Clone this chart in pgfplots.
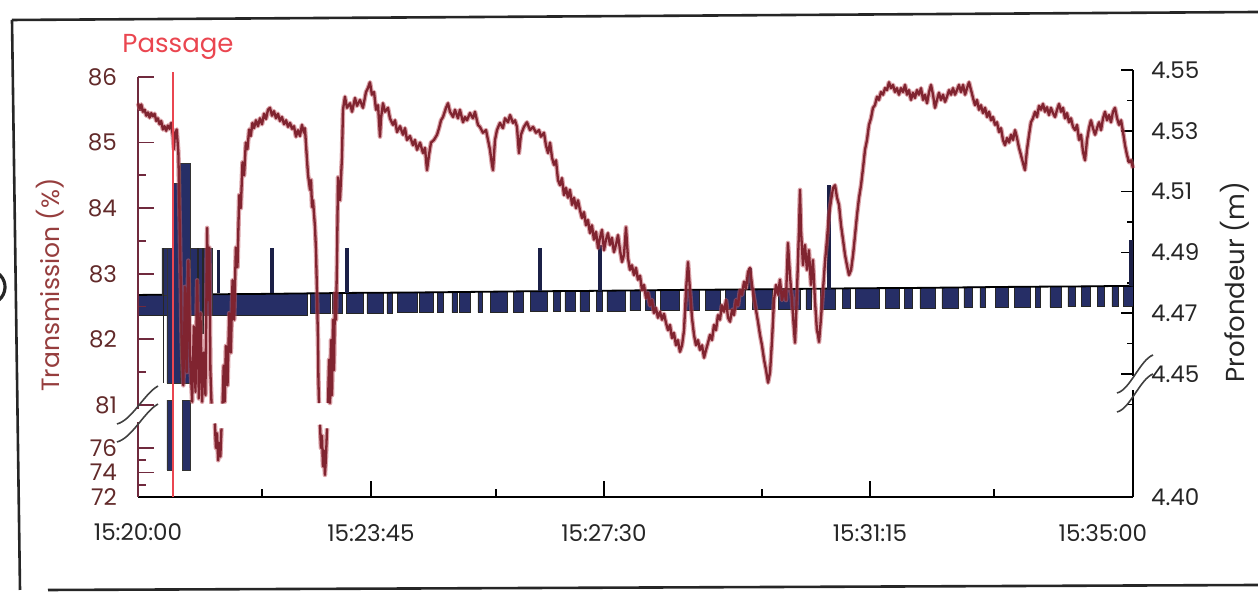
\documentclass[border=0pt]{standalone}
\usepackage{fontspec}
\setmainfont{Poppins}
\usepackage{pgfplots}
\usepackage{pgfplotstable}
\pgfplotsset{compat=1.18}

\definecolor{transred}{RGB}{128,36,48}
\definecolor{transhalo}{RGB}{190,90,100}
\definecolor{depthblue}{RGB}{38,46,102}
\definecolor{axisbrown}{RGB}{112,42,62}
\definecolor{numbrown}{RGB}{98,42,42}
\definecolor{labelred}{RGB}{150,62,62}
\definecolor{passred}{RGB}{234,70,80}

\newcommand{\ticksize}{\fontsize{11.5}{13}\selectfont}
\newcommand{\labelsize}{\fontsize{12.5}{14}\selectfont}

% broken scales, mapped onto a common drawing scale:
% transmission 72-76 compressed below the break, 81-86 above;
% depth 4.40-4.44 compressed below the break, 4.44-4.55 above
\pgfplotsset{
  transscale/.style={
    y filter/.expression={y>=78.5 ? 92+(y-81)*65.6 : (y-72)*12.25},
    ymin=0, ymax=420,
    ytick={0,24.5,49,92,157.6,223.2,288.8,354.4,420},
    yticklabels={72,74,76,81,82,83,84,85,86},
    minor ytick={12.25,36.75,124.8,190.4,256,321.6,387.2},
  },
  depthscale/.style={
    y filter/.expression={y>=4.44 ? 123+(y-4.45)*3040 : (y-4.40)*2200},
    ymin=0, ymax=427,
    ytick={0,123,183.8,244.6,305.4,366.2,427},
    yticklabels={4.40,4.45,4.47,4.49,4.51,4.53,4.55},
    minor ytick={92.6,153.4,214.2,275,335.8,396.6},
  },
  trans/.style={transred, line width=1.15pt, line join=round},
  transback/.style={transhalo, line width=2.3pt, line join=round, opacity=0.55},
  spike/.style={depthblue!70!black, line width=1.6pt},
}

% depth record: lower level of the toggling band (time in s from 15:20:00, depth in m)
\pgfplotstableread{
t d
0 4.4693
152.9 4.4765
155.6 4.4698
173.7 4.4766
175.5 4.4699
184.5 4.4766
189.0 4.4699
203.5 4.4767
207.1 4.4700
221.6 4.4767
225.2 4.4700
230.6 4.4768
234.3 4.4701
252.4 4.4768
254.2 4.4701
266.8 4.4769
270.5 4.4702
275.9 4.4769
284.0 4.4702
288.5 4.4770
291.2 4.4703
300.3 4.4770
307.5 4.4703
312.0 4.4770
318.4 4.4704
333.8 4.4771
339.2 4.4704
348.2 4.4772
354.6 4.4705
370.0 4.4772
375.4 4.4706
381.7 4.4773
386.2 4.4706
395.3 4.4773
399.8 4.4706
408.8 4.4774
414.3 4.4707
419.7 4.4774
424.2 4.4707
440.5 4.4775
445.0 4.4708
454.1 4.4775
458.6 4.4708
467.6 4.4776
472.2 4.4709
490.2 4.4776
494.8 4.4709
508.3 4.4777
512.9 4.4710
526.4 4.4778
531.0 4.4711
549.1 4.4778
555.4 4.4711
573.5 4.4779
578.9 4.4712
598.8 4.4780
604.2 4.4713
609.6 4.4780
616.9 4.4713
630.5 4.4781
636.8 4.4714
644.0 4.4781
649.4 4.4715
671.1 4.4782
675.7 4.4716
689.2 4.4783
693.7 4.4716
700.1 4.4783
707.3 4.4717
720.9 4.4784
727.2 4.4717
741.7 4.4785
747.1 4.4718
754.4 4.4785
761.6 4.4718
766.1 4.4786
775.2 4.4719
786.9 4.4786
793.2 4.4719
806.8 4.4787
812.2 4.4720
815.9 4.4787
824.9 4.4720
835.7 4.4788
841.2 4.4721
847.5 4.4788
853.8 4.4721
861.1 4.4789
868.3 4.4722
874.6 4.4789
881.0 4.4722
886.4 4.4790
891.8 4.4723
900 4.4723
}\bandlow

% upper level of the band, from the end back to the start
\pgfplotstableread{
t d
900 4.4790
850 4.4788
800 4.4787
750 4.4785
700 4.4783
650 4.4782
600 4.4780
550 4.4778
500 4.4777
450 4.4775
400 4.4773
350 4.4772
300 4.4770
250 4.4768
200 4.4767
150 4.4765
100 4.4763
50 4.4762
0 4.4760
}\bandtop

% closed outline of the band: lower level forward, upper level back
\pgfplotstablevertcat{\bandpoly}{\bandlow}
\pgfplotstablevertcat{\bandpoly}{\bandtop}

% transmission (%), pieces of the record on either side of the axis break
\pgfplotstableread{
t T
0 85.60
1.5 85.52
3 85.58
4.5 85.47
6 85.50
7.5 85.41
9 85.46
10.5 85.38
12 85.45
13.5 85.40
15 85.44
16.5 85.33
18 85.37
19.5 85.28
21 85.33
22.5 85.20
24 85.25
25.5 85.18
27 85.26
28.5 85.21
30 85.30
31.5 85.10
32.5 84.90
33.5 85.15
35 85.20
36.5 84.85
38 83.50
39.5 82.00
41 81.30
42.5 82.80
44 81.50
45.5 83.20
47 81.80
49 81.05
50.5 82.20
52 81.20
53.5 82.90
55 81.10
56.5 82.40
58 81.05
59.5 81.80
61 81.15
62.5 83.70
63.5 82.60
64.5 83.40
65.5 81.50
66.5 81.02
}\transA
\pgfplotstableread{
t T
69.5 78.0
70.5 76.0
71.5 77.2
72.5 75.0
73.5 76.4
74.5 75.3
75.5 77.6
}\transB
\pgfplotstableread{
t T
164.6 77.9
165.5 76.0
166.4 77.0
167.3 74.5
168.2 75.8
169.1 73.8
170.0 75.2
171.0 77.6
}\transD

\begin{document}
\begin{tikzpicture}
\useasboundingbox (0,0) rectangle (629pt,296pt);

% sheet frame
\draw[black!85, line width=1.3pt] (6pt,286pt) -- (629pt,290pt);
\draw[black!85, line width=1.3pt] (6pt,286pt) -- (10pt,1pt);
\draw[black!85, line width=1.3pt] (24pt,1pt) -- (629pt,3.5pt);
\draw[black!85, line width=1.6pt] (-6pt,152.5pt) ++(-60:8.5pt) arc (-60:60:8.5pt);

% ---------- depth (right axis) ----------
\begin{axis}[
  at={(69pt,47.5pt)}, anchor=south west,
  scale only axis, width=497.5pt, height=213.5pt,
  xmin=0, xmax=900,
  depthscale,
  axis x line=none, axis y line*=right,
  y axis line style={black, line width=1pt},
  tick align=inside,
  major tick length=6pt, minor tick length=3pt,
  ytick style={black, line width=0.8pt},
  yticklabel style={font=\ticksize, text=black!85, xshift=5.5pt},
  clip=false,
]
\addplot[const plot, fill=depthblue, draw=none] table[x=t, y=d] {\bandpoly};
\addplot[const plot, black!85, line width=0.45pt] table[x=t, y=d] {\bandlow};
\addplot[black, line width=0.9pt] table[x=t, y=d] {\bandtop};

% disturbance at the passage
\addplot[fill=depthblue, draw=black!80, line width=0.4pt] coordinates {(21.7,4.4760)(26.2,4.4760)(26.2,4.4914)(21.7,4.4914)(21.7,4.4760)};
\addplot[fill=depthblue, draw=black!80, line width=0.4pt] coordinates {(26.2,4.4470)(30.8,4.4470)(30.8,4.4914)(26.2,4.4914)(26.2,4.4470)};
\addplot[fill=depthblue, draw=black!80, line width=0.4pt] coordinates {(30.8,4.4470)(38.0,4.4470)(38.0,4.5128)(30.8,4.5128)(30.8,4.4470)};
\addplot[fill=depthblue, draw=black!80, line width=0.4pt] coordinates {(38.0,4.4470)(47.0,4.4470)(47.0,4.5194)(38.0,4.5194)(38.0,4.4470)};
\addplot[fill=depthblue, draw=black!80, line width=0.4pt] coordinates {(47.0,4.4694)(66.9,4.4694)(66.9,4.4914)(47.0,4.4914)(47.0,4.4694)};
\addplot[fill=depthblue, draw=black!80, line width=0.4pt] coordinates {(26.2,4.4123)(30.8,4.4123)(30.8,4.4414)(26.2,4.4414)(26.2,4.4123)};
\addplot[fill=depthblue, draw=black!80, line width=0.4pt] coordinates {(39.8,4.4123)(47.0,4.4123)(47.0,4.4414)(39.8,4.4414)(39.8,4.4123)};
\addplot[black!85, line width=0.9pt] coordinates {(23.0,4.4470)(23.0,4.4914)};
\addplot[black!85, line width=0.9pt] coordinates {(54.0,4.4556)(54.0,4.4914)};
\addplot[black!85, line width=0.9pt] coordinates {(59.0,4.4630)(59.0,4.4914)};

% isolated depth spikes
\addplot[spike] coordinates {(73.0,4.4767)(73.0,4.4908)};
\addplot[spike] coordinates {(121.2,4.4767)(121.2,4.4914)};
\addplot[spike] coordinates {(189.0,4.4768)(189.0,4.4914)};
\addplot[spike] coordinates {(363.6,4.4772)(363.6,4.4914)};
\addplot[spike] coordinates {(417.9,4.4774)(417.9,4.4924)};
\addplot[spike] coordinates {(553.6,4.4778)(553.6,4.4849)};
\addplot[spike] coordinates {(625.0,4.4781)(625.0,4.5122)};
\addplot[spike] coordinates {(898.2,4.4790)(898.2,4.4940)};
\end{axis}

% ---------- transmission (left axis) ----------
\begin{axis}[
  at={(69pt,47.5pt)}, anchor=south west,
  scale only axis, width=497.5pt, height=210pt,
  xmin=0, xmax=900,
  transscale,
  axis x line*=bottom, axis y line*=left,
  x axis line style={black, line width=1.4pt},
  y axis line style={axisbrown, line width=1pt},
  tick align=inside,
  xtick={0,210.7,421.5,662.1},
  xticklabels={15:20:00,15:23:45,15:27:30,15:31:15},
  extra x ticks={872.8},
  extra x tick labels={15:35:00},
  extra x tick style={major tick length=0pt},
  minor xtick={112.2,323.8,564.4,774.3},
  major tick length=8pt, minor tick length=4pt,
  xtick style={black, line width=0.8pt},
  ytick style={axisbrown, line width=0.9pt},
  xticklabel style={font=\ticksize, text=black!85, yshift=-10pt},
  yticklabel style={font=\ticksize, text=numbrown, xshift=-7pt},
  clip=false,
]
\addplot[transback] table[x=t, y=T] {\transA};
\addplot[trans] table[x=t, y=T] {\transA};
\addplot[transback] table[x=t, y=T] {\transB};
\addplot[trans] table[x=t, y=T] {\transB};
\addplot[transback] table[x=t, y=T] {\transD};
\addplot[trans] table[x=t, y=T] {\transD};
\pgfplotsinvokeforeach{transback,trans}{
\addplot[#1] coordinates {
(76.5,81.02)(77.5,81.60)(78.5,81.05)(79.5,81.90)(81,81.30)(82.5,82.40)(84,81.80)(85.5,82.90)(87,82.30)(88.5,83.40)
(90,83.10)(91.5,84.20)(93,84.00)(94.5,84.70)(96,84.50)(97.5,85.00)(99,84.90)(100.5,85.20)(102,85.10)(103.5,85.30)
(105,85.22)(106.7,85.34)(108.5,85.25)(110.3,85.37)(112.2,85.28)(114.0,85.44)(115.8,85.36)(117.6,85.50)(119.4,85.53)(121.2,85.41)
(123.0,85.48)(124.8,85.37)(126.6,85.44)(128.4,85.33)(130.2,85.39)(132.1,85.28)(133.9,85.34)(135.7,85.24)(137.5,85.30)(139.3,85.21)
(141.1,85.25)(142.9,85.09)(144.7,85.19)(146.5,85.10)(148.3,85.27)(150.1,85.15)(151.0,85.22)(152.9,84.73)(153.8,84.51)(155.6,84.28)
(156.5,84.43)(157.4,84.02)(158.3,84.12)(160.1,83.71)(161.0,83.36)(161.9,82.71)(162.8,81.99)(163.2,81.38)(163.7,81.03)};
\addplot[#1] coordinates {
(171.9,81.03)(172.8,81.69)(173.7,81.03)(174.6,81.99)(175.5,81.15)(176.4,82.30)(177.3,81.53)(178.2,82.71)(179.1,82.30)(180.0,83.21)
(180.9,84.47)(182.7,84.12)(184.5,84.78)(185.4,85.50)(187.2,85.70)(189.0,85.53)(191.8,85.60)(193.6,85.47)(196.3,85.68)(198.1,85.56)
(200.8,85.65)(203.5,85.53)(206.2,85.77)(208.0,85.83)(209.8,85.92)(211.6,85.73)(213.5,85.77)(215.3,85.50)(217.1,85.57)(218.9,85.09)
(219.8,85.37)(221.6,85.60)(223.4,85.47)(226.1,85.53)(227.9,85.37)(230.6,85.27)(232.5,85.34)(234.3,85.16)(237.0,85.25)(239.7,85.12)
(241.5,85.22)(243.3,85.04)(246.0,85.10)(248.7,84.96)(250.5,85.04)(252.4,84.89)(255.1,85.00)(257.8,84.84)(259.6,84.92)(261.4,84.58)
(263.2,84.81)(265.0,85.00)(267.7,85.04)(270.5,85.12)(272.3,85.22)(274.1,85.34)(275.9,85.39)(278.6,85.53)(280.4,85.60)(282.2,85.47)
(285.0,85.39)(286.7,85.50)(289.4,85.37)(291.2,85.50)(294.0,85.31)(295.8,85.39)(297.6,85.34)(300.3,85.45)(303.0,85.37)(304.8,85.47)
(307.5,85.27)(309.3,85.24)(312.0,85.15)(314.8,85.19)(316.6,85.04)(318.4,84.89)(320.2,84.66)(321.1,84.58)(322.9,85.04)(324.7,85.19)
(327.4,85.30)(330.1,85.22)(332.0,85.37)(334.7,85.31)(336.5,85.42)(339.2,85.30)(341.0,85.34)(342.8,85.24)(344.6,84.84)(346.4,85.12)
(349.1,85.24)(351.8,85.31)(354.6,85.19)(357.3,85.24)(360.0,85.15)(362.7,85.19)(364.5,85.09)(367.2,85.15)(369.0,84.96)(370.9,84.84)
(372.7,85.00)(374.5,84.77)(376.3,84.66)(378.1,84.73)(379.9,84.43)(381.7,84.35)(383.5,84.46)(385.3,84.20)(387.1,84.31)(388.9,84.16)
(390.7,84.28)(392.6,84.05)(394.4,84.16)(396.2,84.00)(398.0,84.12)(399.8,83.97)(401.6,83.85)(403.4,83.94)(405.2,83.74)(407.0,83.82)
(408.8,83.62)(410.6,83.74)(412.4,83.52)(414.3,83.64)(416.1,83.39)(417.9,83.55)(419.7,83.67)(421.5,83.36)(423.3,83.52)(425.1,83.62)
(426.9,83.44)(428.7,83.55)(430.5,83.33)(432.3,83.44)(434.2,83.59)(436.0,83.36)(437.8,83.18)(439.6,83.29)(441.4,83.71)(443.2,83.24)
(445.0,83.06)(446.8,83.13)(448.6,82.98)(450.4,83.09)(452.2,82.91)(454.1,82.97)(455.9,82.75)(457.7,82.83)(459.5,82.63)(461.3,82.71)
(463.1,82.52)(464.9,82.60)(466.7,82.40)(468.5,82.48)(470.3,82.33)(472.2,82.42)(474.0,82.30)(475.8,82.39)(477.6,82.25)(479.4,82.14)
(481.2,82.22)(483.0,82.02)(484.8,82.10)(486.6,81.91)(488.4,81.99)(490.2,81.81)(492.1,81.91)(493.9,82.14)(495.7,82.75)(497.5,83.18)
(499.3,82.75)(501.1,82.33)(502.9,82.07)(504.7,81.91)(506.5,81.99)(508.3,81.84)(510.2,81.91)(512.0,81.72)(513.8,81.84)(515.6,81.95)
(517.4,82.07)(519.2,81.99)(521.0,82.22)(522.8,82.14)(524.6,82.37)(526.4,82.30)(528.2,82.52)(530.1,82.42)(531.9,82.60)(533.7,82.33)
(535.5,82.27)(537.3,82.45)(539.1,82.37)(540.9,82.60)(542.7,82.52)(544.5,82.75)(546.3,82.68)(548.2,82.88)(550.0,82.78)(551.8,83.03)
(553.6,83.09)(555.4,82.83)(557.2,82.63)(559.0,82.45)(560.8,82.27)(562.6,82.07)(564.4,81.91)(566.3,81.69)(568.1,81.53)(569.9,81.34)
(571.7,81.50)(573.5,81.99)(575.3,82.60)(577.1,82.83)(578.9,82.68)(580.7,82.91)(582.5,82.60)(584.4,82.75)(586.1,82.60)(587.9,83.47)
(589.7,82.98)(591.5,82.60)(593.4,82.14)(594.3,81.95)(596.1,82.75)(597.9,83.67)(598.8,84.28)(599.7,83.67)(601.5,83.13)(603.3,83.44)
(605.1,83.06)(606.9,83.36)(608.7,82.83)(610.5,83.21)(612.3,82.60)(614.1,82.14)(615.1,82.07)(616.0,81.96)(617.8,82.33)(619.6,82.75)
(621.4,83.18)(623.2,83.52)(625.0,83.90)(626.9,84.12)(628.7,84.31)(630.5,84.35)(632.3,84.16)(634.1,84.05)(635.9,83.74)(637.7,83.52)
(639.5,83.29)(641.3,83.13)(643.1,82.98)(645.0,83.06)(646.8,83.29)(648.6,83.59)(650.4,83.90)(652.2,84.16)(654.0,84.35)(655.8,84.61)
(657.6,84.89)(659.4,85.04)(661.2,85.27)(663.0,85.37)(664.8,85.53)(666.6,85.57)(668.5,85.70)(670.2,85.65)(672.0,85.77)(673.9,85.73)
(675.7,85.83)(677.5,85.80)(679.3,85.92)(681.1,85.83)(682.9,85.88)(684.7,85.77)(686.5,85.83)(688.3,85.73)(690.1,85.83)(692.0,85.77)
(693.8,85.88)(695.6,85.73)(697.4,85.80)(699.2,85.65)(701.0,85.76)(702.8,85.68)(704.6,85.80)(706.4,85.73)(708.3,85.83)(710.1,85.65)
(711.9,85.73)(713.7,85.60)(715.5,85.77)(717.3,85.88)(719.1,85.73)(720.9,85.53)(722.7,85.65)(724.5,85.76)(726.3,85.65)(728.2,85.73)
(730.0,85.62)(731.8,85.70)(733.6,85.80)(735.4,85.73)(737.2,85.83)(739.0,85.73)(740.8,85.80)(742.6,85.88)(744.4,85.77)(746.3,85.88)
(748.1,85.73)(749.9,85.83)(751.7,85.92)(753.5,85.80)(755.3,85.68)(757.1,85.57)(758.9,85.65)(760.7,85.50)(762.5,85.57)(764.3,85.45)
(766.2,85.53)(768.0,85.39)(769.8,85.47)(771.6,85.34)(773.4,85.39)(775.2,85.27)(777.0,85.31)(778.8,85.16)(780.6,85.22)(782.4,85.04)
(784.2,84.96)(786.1,85.07)(787.9,85.00)(789.7,85.12)(791.5,85.04)(793.3,85.19)(795.1,85.07)(796.9,84.92)(798.7,84.81)(800.5,84.69)
(802.3,84.58)(804.1,84.89)(806.0,85.12)(807.7,85.31)(809.5,85.37)(811.4,85.47)(813.2,85.39)(815.0,85.56)(816.8,85.50)(818.6,85.59)
(820.4,85.47)(822.2,85.54)(824.0,85.42)(825.8,85.53)(827.6,85.45)(829.5,85.39)(831.3,85.50)(833.1,85.59)(834.9,85.47)(836.7,85.53)
(838.5,85.37)(840.3,85.45)(842.1,85.31)(843.9,85.37)(845.7,85.24)(847.6,85.19)(849.4,85.27)(851.2,85.04)(853.0,85.12)(854.8,84.86)
(856.6,84.73)(858.4,85.04)(860.2,85.22)(862.0,85.34)(863.8,85.22)(865.7,85.12)(867.5,85.22)(869.3,85.31)(871.1,85.19)(872.9,85.37)
(874.7,85.47)(876.5,85.34)(878.3,85.42)(880.1,85.31)(881.9,85.47)(883.7,85.53)(885.6,85.37)(887.4,85.27)(889.2,85.34)(891.0,85.16)
(892.8,84.96)(894.6,84.81)(896.4,84.70)(898.2,84.73)(900.0,84.61)};
}

% passage of the vessel
\addplot[passred, line width=1pt] coordinates {(31.7,72)(31.7,86.07)};
\end{axis}

% axis breaks
\fill[white] (67.6pt,85.2pt) rectangle (70.4pt,91.6pt);
\draw[black!75, line width=0.8pt] (58.5pt,84pt) .. controls (66pt,86pt) and (72pt,99pt) .. (79pt,103pt);
\draw[black!75, line width=0.8pt] (58.5pt,75pt) .. controls (66pt,77pt) and (72pt,90pt) .. (79pt,94pt);
\fill[white] (565pt,100.8pt) rectangle (568pt,107.8pt);
\draw[black!75, line width=0.8pt] (558.5pt,99.5pt) .. controls (565pt,101pt) and (570pt,116pt) .. (576.5pt,118.5pt);
\draw[black!75, line width=0.8pt] (558.5pt,90pt) .. controls (565pt,91.5pt) and (570pt,106.5pt) .. (576.5pt,109pt);

% titles
\node[rotate=90, text=labelred, font=\labelsize] at (25pt,153.5pt) {Transmission (\%)};
\node[rotate=90, text=black!85, font=\fontsize{13}{15}\selectfont] at (617.5pt,155pt) {Profondeur (m)};
\node[text=passred, font=\fontsize{13}{15}\selectfont] at (89pt,272.5pt) {Passage};
\end{tikzpicture}
\end{document}
